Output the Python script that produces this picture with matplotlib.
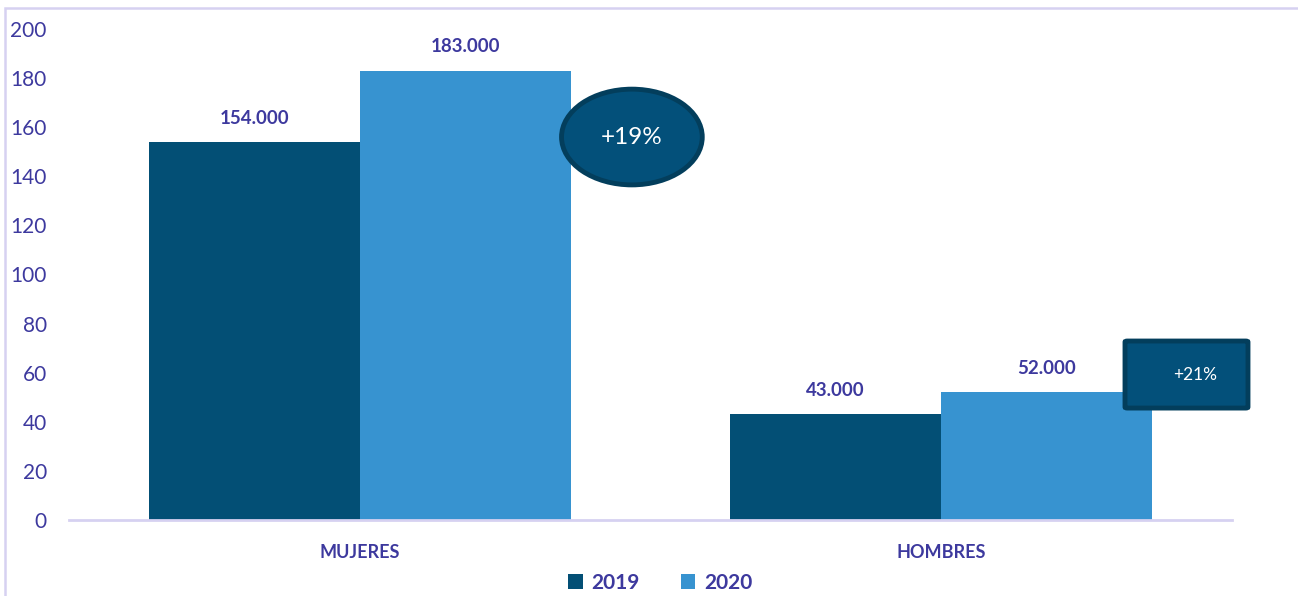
import matplotlib
matplotlib.use("Agg")
from matplotlib import pyplot as plt
from matplotlib.patches import Ellipse, FancyBboxPatch, Rectangle
import numpy as np

# datos
categorias = ['MUJERES', 'HOMBRES']
series = ['2019', '2020']
valores_2019 = [154, 43]
valores_2020 = [183, 52]
etiquetas_2019 = ['154.000', '43.000']
etiquetas_2020 = ['183.000', '52.000']
variaciones = ['+19%', '+21%']

c2019 = '#034F75'
c2020 = '#3793D0'
texto = '#3D399E'
linea = '#D6D1F1'

plt.rcParams['font.family'] = ['Lato', 'DejaVu Sans']

fig = plt.figure(figsize=(12.98, 5.96), dpi=100)
ax = fig.add_axes([69 / 1298, 1 - 520 / 596, (1232 - 69) / 1298, (520 - 29) / 596])

x = np.arange(len(categorias))
ancho = 0.363
b1 = ax.bar(x - ancho / 2, valores_2019, ancho, color=c2019, label=series[0])
b2 = ax.bar(x + ancho / 2, valores_2020, ancho, color=c2020, label=series[1])

for barras, etiquetas in [(b1, etiquetas_2019), (b2, etiquetas_2020)]:
    for b, t in zip(barras, etiquetas):
        ax.annotate(t, (b.get_x() + b.get_width() / 2, b.get_height()),
                    xytext=(0, 11), textcoords='offset points',
                    ha='center', va='bottom', fontsize=13.5, fontweight='bold', color=texto)

ax.set_xlim(-0.5, 1.5)
ax.set_ylim(0, 200)
ax.set_yticks(range(0, 201, 20))
ax.set_xticks(x)
ax.set_xticklabels(categorias, fontsize=13, fontweight='bold', color=texto)
ax.tick_params(axis='y', length=0, labelsize=15, labelcolor=texto, pad=16)
ax.tick_params(axis='x', length=0, pad=17)
for s in ['top', 'right', 'left']:
    ax.spines[s].set_visible(False)
ax.spines['bottom'].set_color(linea)
ax.spines['bottom'].set_linewidth(2)

# globo +19%
xe = x[0] + ancho + 0.105
ye = valores_2020[0] - 27
ax.add_patch(Ellipse((xe, ye), 0.242, 39, facecolor='#03507A', edgecolor='#033E5C',
                     linewidth=3.5, clip_on=False, zorder=5))
ax.text(xe, ye, variaciones[0], ha='center', va='center', color='white',
        fontsize=17.5, zorder=6)

# caja +21%
xr = x[1] + 0.316
yr = 45.6
ax.add_patch(FancyBboxPatch((xr, yr), 0.2115, 27.3, boxstyle='round,pad=0,rounding_size=0.004',
                            facecolor='#03507A', edgecolor='#033E5C', linewidth=3.5,
                            clip_on=False, zorder=5, mutation_aspect=100))
ax.text(xr + 0.2115 * 0.57, yr + 13.6, variaciones[1], ha='center', va='center',
        color='white', fontsize=12.5, zorder=6)

# marco
fig.add_artist(Rectangle((5 / 1298, -0.1), 1.2, 1.1 - 8 / 596, transform=fig.transFigure,
                         fill=False, edgecolor=linea, linewidth=1.8))

leg = fig.legend(loc='center', bbox_to_anchor=(660 / 1298, 1 - 583 / 596), ncol=2,
                 frameon=False, handlelength=0.7, handleheight=0.7, handletextpad=0.4,
                 columnspacing=2.0, prop={'size': 15, 'weight': 'bold'})
for t in leg.get_texts():
    t.set_color(texto)

plt.savefig('out.png', dpi=100)
